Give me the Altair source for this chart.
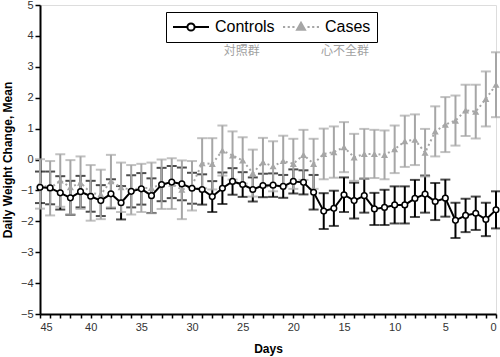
import altair as alt
import pandas as pd

days = list(range(45, -1, -1))
ctrl_mean = [-0.90, -0.92, -1.08, -1.24, -1.04, -1.19, -1.33, -1.11, -1.40, -1.03,
             -0.95, -1.17, -0.81, -0.73, -0.79, -0.93, -0.97, -1.20, -0.93, -0.71,
             -0.81, -0.97, -0.84, -0.83, -0.87, -0.71, -0.74, -1.06, -1.67, -1.58,
             -1.14, -1.33, -1.17, -1.60, -1.55, -1.47, -1.47, -1.26, -1.12, -1.36,
             -1.25, -1.97, -1.81, -1.74, -1.94, -1.63]
ctrl_se = [0.51, 0.53, 0.54, 0.55, 0.51, 0.50, 0.50, 0.47, 0.54, 0.52,
           0.51, 0.56, 0.54, 0.52, 0.53, 0.50, 0.49, 0.50, 0.51, 0.43,
           0.40, 0.39, 0.38, 0.38, 0.37, 0.39, 0.39, 0.56, 0.58, 0.57,
           0.56, 0.58, 0.55, 0.52, 0.57, 0.60, 0.60, 0.60, 0.60, 0.60,
           0.60, 0.57, 0.54, 0.54, 0.54, 0.60]
case_mean = [-0.79, -0.93, -0.68, -0.90, -0.75, -1.08, -1.13, -0.70, -0.90, -0.98,
             -0.92, -0.92, -0.80, -0.78, -0.98, -0.85, -0.12, -0.14, 0.29, 0.13,
             -0.03, -0.44, -0.09, -0.22, -0.05, -0.14, 0.15, -0.14, 0.18, 0.24,
             0.40, 0.07, 0.18, 0.18, 0.15, 0.33, 0.59, 0.64, 0.22, 0.91,
             1.13, 1.26, 1.59, 1.55, 1.96, 2.42]
case_se = [0.80, 0.88, 0.85, 0.88, 0.85, 0.90, 0.80, 0.85, 0.80, 0.80,
           0.78, 0.82, 0.80, 0.82, 0.95, 0.80, 0.81, 0.83, 0.81, 0.78,
           0.75, 0.76, 0.79, 0.81, 0.82, 0.81, 0.81, 0.81, 0.82, 0.83,
           0.81, 0.76, 0.81, 0.78, 0.79, 0.77, 0.83, 0.82, 0.77, 0.81,
           0.89, 0.81, 0.83, 0.87, 0.89, 1.05]
groups = ["Controls", "Cases"]
ann_text = ["対照群", "心不全群"]
ann_day = [25.1, 14.9]
ann_val = [3.52, 3.50]
x_ticks = list(range(0, 46))
y_ticks = list(range(-5, 6))

GRAY = "#a6a6a6"
FONT = "Liberation Sans"

rows = []
for g, m, s in [("Controls", ctrl_mean, ctrl_se), ("Cases", case_mean, case_se)]:
    for d, mv, sv in zip(days, m, s):
        rows.append({"day": d, "mean": mv, "lo": mv - sv, "hi": mv + sv, "group": g})
df = pd.DataFrame(rows)
ann = pd.DataFrame({"day": ann_day, "val": ann_val, "text": ann_text})

xaxis = alt.Axis(values=x_ticks, labelExpr="datum.value % 5 === 0 ? datum.label : ''",
                 tickSize=4, tickWidth=1.5, tickColor="black", domainColor="black",
                 domainWidth=2, labelFont=FONT, labelFontSize=11, labelColor="#333",
                 labelPadding=3, grid=False, title="Days", titleFont=FONT,
                 titleFontSize=12, titleFontWeight="bold", titlePadding=11,
                 labelOverlap=False)
yaxis = alt.Axis(values=y_ticks, tickSize=5, tickWidth=1.5, tickColor="black",
                 domainColor="black", domainWidth=2, labelFont=FONT, labelFontSize=11,
                 labelColor="#333", labelPadding=2, grid=False,
                 title="Daily Weight Change, Mean", titleFont=FONT, titleFontSize=12,
                 titleFontWeight="bold", titlePadding=6)
xs = alt.Scale(domain=[0, 45], reverse=True, nice=False)
ys = alt.Scale(domain=[-5, 5], nice=False)


def X(f="day:Q"):
    return alt.X(f, scale=xs, axis=xaxis)


def Y(f):
    return alt.Y(f, scale=ys, axis=yaxis)


base = alt.Chart(df)


def bars(g, color):
    src = base.transform_filter(alt.datum.group == g)
    rule = src.mark_rule(strokeWidth=2, color=color).encode(
        x=X(), y=Y("lo:Q"), y2="hi:Q")
    caps = src.transform_fold(["lo", "hi"], as_=["k", "v"]).mark_tick(
        orient="horizontal", size=10, thickness=2, color=color).encode(
        x=X(), y=Y("v:Q"))
    return rule + caps


ctrl_bars = bars("Controls", "black")
case_bars = bars("Cases", GRAY)

case_line = base.transform_filter(alt.datum.group == "Cases").mark_line(
    strokeWidth=2, strokeDash=[2, 3], color=GRAY).encode(x=X(), y=Y("mean:Q"))
case_pts = base.transform_filter(alt.datum.group == "Cases").mark_point(
    shape="triangle-up", filled=True, color=GRAY, size=50, opacity=1).encode(
    x=X(), y=Y("mean:Q"))
ctrl_line = base.transform_filter(alt.datum.group == "Controls").mark_line(
    strokeWidth=2, color="black").encode(x=X(), y=Y("mean:Q"))
ctrl_pts = base.transform_filter(alt.datum.group == "Controls").mark_point(
    shape="circle", filled=True, fill="white", stroke="black", strokeWidth=1.5,
    size=32, opacity=1).encode(x=X(), y=Y("mean:Q"))

labels = alt.Chart(ann).mark_text(font="Noto Sans CJK JP", fontSize=12,
                                  color="#a0a0a0").encode(
    x=X(), y=Y("val:Q"), text="text:N")

ctrl_path = ("M-1,0L-0.2,0M0.2,0L1,0"
             "M0.2,0A0.2,0.2,0,1,1,-0.2,0A0.2,0.2,0,1,1,0.2,0Z")
case_path = ("M-1,0L-0.88,0M-0.74,0L-0.62,0M-0.48,0L-0.36,0"
             "M0.36,0L0.48,0M0.62,0L0.74,0M0.88,0L1,0"
             "M0,-0.24L0.22,0.15L-0.22,0.15Z")

leg = alt.Legend(orient="none", legendX=126, legendY=7, direction="horizontal",
                 title=None, strokeColor="black", padding=6,
                 labelFont=FONT, labelFontSize=16, labelColor="black",
                 labelOffset=5, columnPadding=7, symbolSize=1296,
                 symbolStrokeWidth=2, clipHeight=18)
legend_layer = base.transform_filter("false").mark_point(
    filled=True, strokeWidth=2, opacity=1).encode(
    x=X(), y=Y("mean:Q"),
    shape=alt.Shape("group:N", scale=alt.Scale(domain=groups, range=[ctrl_path, case_path]), legend=leg),
    fill=alt.Fill("group:N", scale=alt.Scale(domain=groups, range=["white", GRAY]), legend=leg),
    stroke=alt.Stroke("group:N", scale=alt.Scale(domain=groups, range=["black", GRAY]), legend=leg),
)

chart = alt.layer(ctrl_bars, case_bars, case_line, case_pts, ctrl_line, ctrl_pts,
                  labels, legend_layer).properties(
    width=456, height=309,
    padding={"left": 40, "top": 5, "right": 4, "bottom": 43},
    autosize=alt.AutoSizeParams(type="none"),
).configure_view(strokeWidth=0).configure_legend(strokeWidth=2).configure(background="white")

chart.save("out.html", embed_options={"renderer": "svg", "actions": False})
